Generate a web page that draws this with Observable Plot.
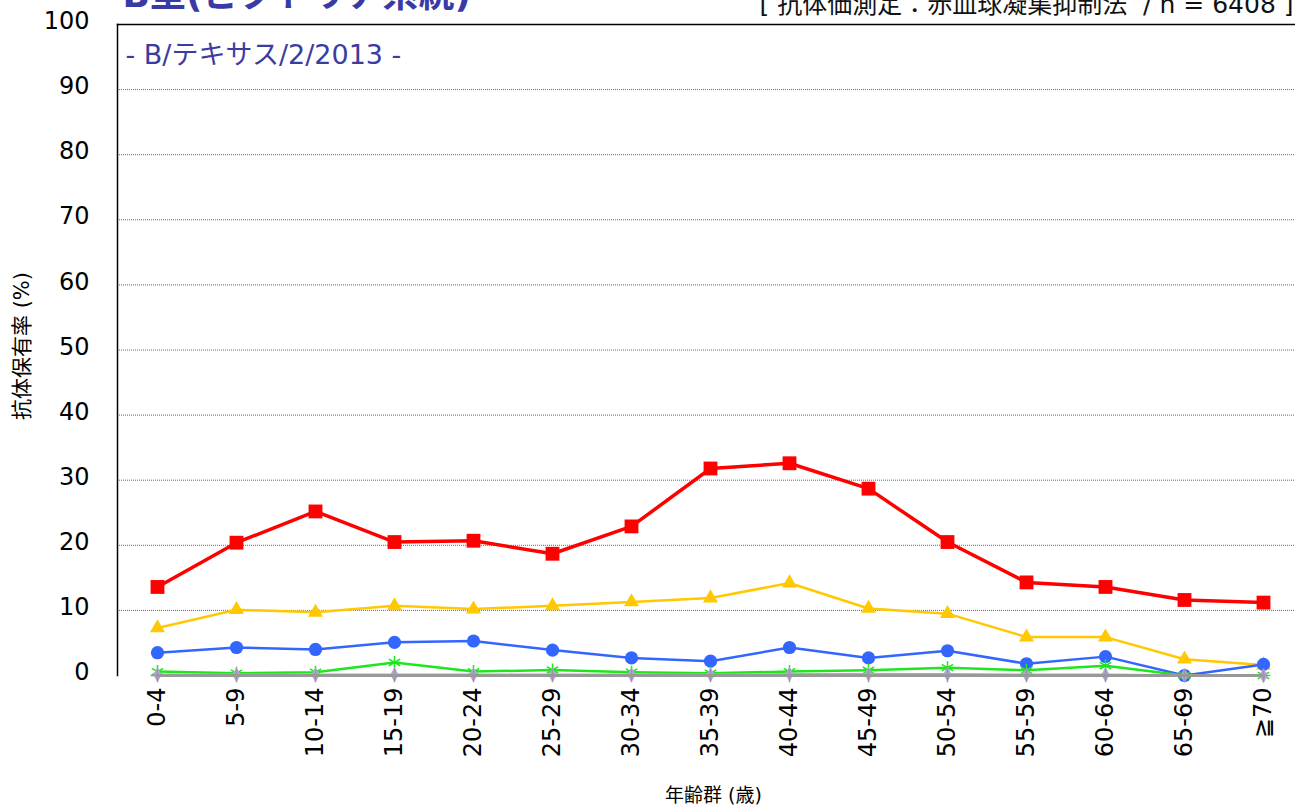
<!DOCTYPE html>
<html>
<head>
<meta charset="utf-8">
<script src="https://cdn.jsdelivr.net/npm/d3@7"></script>
<script src="https://cdn.jsdelivr.net/npm/@observablehq/plot@0.6"></script>
<style>
  html, body { margin: 0; padding: 0; background: #fff; }
  #chart { width: 1295px; height: 812px; overflow: hidden; }
</style>
</head>
<body>
<div id="chart"></div>
<script>
const ageGroups = ["0-4","5-9","10-14","15-19","20-24","25-29","30-34","35-39","40-44","45-49","50-54","55-59","60-64","65-69","≧70"];
const yTicks = [0,10,20,30,40,50,60,70,80,90,100];
const gridTicks = [10,20,30,40,50,60,70,80,90];

const redValues    = [13.6,20.4,25.2,20.5,20.7,18.7,22.9,31.8,32.6,28.7,20.5,14.3,13.6,11.6,11.2];
const yellowValues = [7.3,10.1,9.7,10.7,10.2,10.7,11.3,11.9,14.2,10.3,9.5,5.9,5.9,2.5,1.6];
const blueValues   = [3.5,4.3,4.0,5.1,5.3,3.9,2.7,2.2,4.3,2.7,3.8,1.8,2.9,0.0,1.7];
const greenValues  = [0.6,0.35,0.5,2.0,0.6,0.85,0.5,0.35,0.6,0.8,1.2,0.8,1.5,0.0,0.0];
const purpleValues = [0.1,0.1,0.1,0.1,0.1,0.1,0.1,0.1,0.2,0.2,0.2,0.1,0.1,0.0,0.0];
const grayValues   = [0,0,0,0,0,0,0,0,0,0,0,0,0,0,0];

const titleText = "B型(ビクトリア系統)";
const subtitleText = "- B/テキサス/2/2013 -";
const headerText = "[ 抗体価測定：赤血球凝集抑制法  / n = 6408 ]";
const yLabel = "抗体保有率 (%)";
const xLabel = "年齢群 (歳)";

const toRows = vals => ageGroups.map((a, i) => ({age: a, value: vals[i]}));
const red = toRows(redValues), yellow = toRows(yellowValues), blue = toRows(blueValues),
      green = toRows(greenValues), purple = toRows(purpleValues), gray = toRows(grayValues);

const font = "DejaVu Sans, 'Noto Sans CJK JP', sans-serif";

function series(data, color, symbol, r, sw, filled = true) {
  return [
    Plot.line(data, {x: "age", y: "value", stroke: color, strokeWidth: sw}),
    Plot.dot(data, filled
      ? {x: "age", y: "value", symbol: () => symbol, fill: color, stroke: "none", r}
      : {x: "age", y: "value", symbol: () => symbol, stroke: color, strokeWidth: 1.5, fill: "none", r})
  ];
}

const chart = Plot.plot({
  width: 1295,
  height: 812,
  marginTop: 24,
  marginLeft: 117,
  marginRight: 0,
  marginBottom: 137,
  style: {fontFamily: font, background: "white", color: "black"},
  x: {type: "point", domain: ageGroups, range: [117, 1302], padding: 0.5, label: null},
  y: {domain: [0, 100], label: null},
  symbol: {type: "identity"},
  marks: [
    Plot.gridY(gridTicks, {stroke: "#666", strokeOpacity: 1, strokeDasharray: "1,1", strokeWidth: 1}),
    Plot.axisY(yTicks, {tickSize: 0, tickPadding: 28, fontSize: 24, dy: -3, label: null}),
    Plot.axisX({tickSize: 0, tickPadding: 12, tickRotate: -90, fontSize: 24, label: null}),
    Plot.text([yLabel], {frameAnchor: "left", dx: -95, dy: -4, rotate: -90, fontSize: 21, textAnchor: "middle"}),
    Plot.text([xLabel], {frameAnchor: "bottom", dx: 7, dy: 126, fontSize: 19, textAnchor: "middle"}),
    Plot.text([titleText], {frameAnchor: "top-left", dx: 5, dy: -29, fontSize: 36, fontWeight: "bold", fill: "#3a3aa6", textAnchor: "start", lineAnchor: "middle"}),
    Plot.text([headerText], {frameAnchor: "top-right", dx: -2, dy: -20, fontSize: 25, fill: "#111", textAnchor: "end", lineAnchor: "middle"}),
    Plot.text([subtitleText], {frameAnchor: "top-left", dx: 8, dy: 31, fontSize: 27, fill: "#3c3ca0", textAnchor: "start", lineAnchor: "middle"}),
    ...series(red, "#ff0000", "square", 7.8, 3.5),
    ...series(yellow, "#ffc800", "triangle", 5.6, 2.5),
    ...series(blue, "#3366ff", "circle", 6.6, 2.5),
    ...series(green, "#1ee61e", "asterisk", 6.2, 2.5, false),
    ...series(purple, "#b9a0e6", "diamond", 4.5, 2.5),
    ...series(gray, "#999999", "plus", 4.5, 3, false),
    Plot.frame({anchor: "left", stroke: "black", strokeWidth: 1.5}),
    Plot.frame({anchor: "top", stroke: "black", strokeWidth: 1.5})
  ]
});
document.getElementById("chart").appendChild(chart);
</script>
</body>
</html>
